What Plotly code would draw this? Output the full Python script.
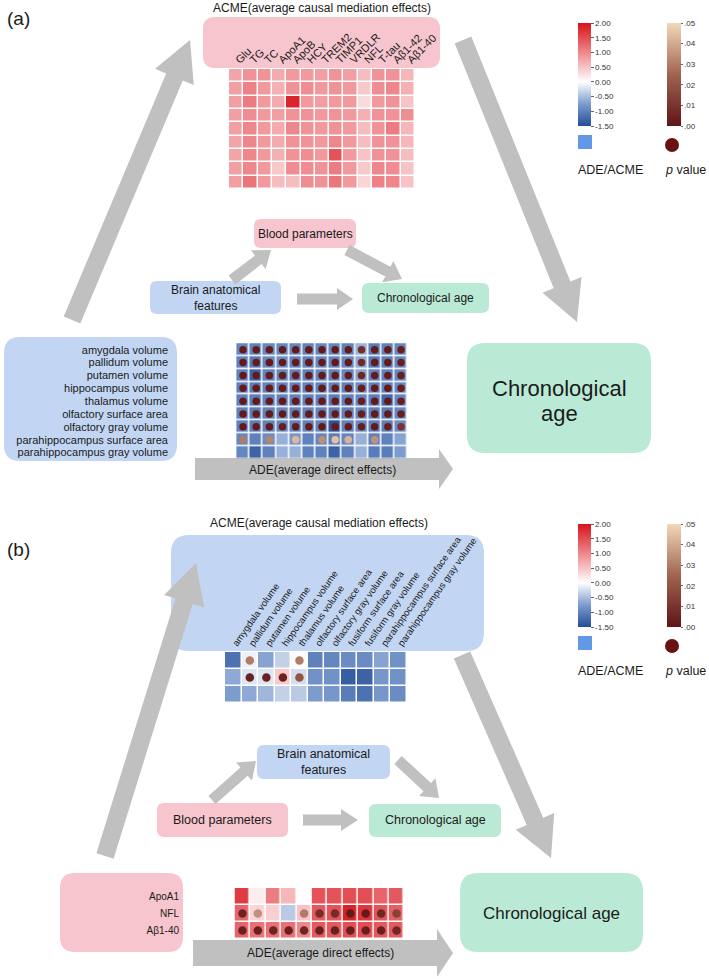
import math
import plotly.graph_objects as go

W, H = 709, 980

# ---------------- data ----------------
blood_params = ["Glu", "TG", "TC", "ApoA1", "ApoB", "HCY", "TREM2", "TIMP1",
                "VRDLR", "NFL", "T-tau", "Aβ1-42", "Aβ1-40"]
brain_rows_a = ["amygdala volume", "pallidum volume", "putamen volume",
                "hippocampus volume", "thalamus volume", "olfactory surface area",
                "olfactory gray volume", "parahippocampus surface area",
                "parahippocampus gray volume"]
brain_cols_b = ["amygdala volume", "pallidum volume", "putamen volume",
                "hippocampus volume", "thalamus volume", "olfactory surface area",
                "olfactory gray volume", "fusiform surface area", "fusiform gray volume",
                "parahippocampus surface area", "parahippocampus gray volume"]
blood_rows_b = ["ApoA1", "NFL", "Aβ1-40"]

# (a) ACME: brain feature -> blood parameter -> age
acme_a = [
    [0.75, 0.90, 0.90, 0.70, 0.85, 0.85, 0.80, 0.90, 0.80, 0.55, 0.90, 0.90, 0.60],
    [0.80, 1.05, 0.85, 0.65, 0.90, 0.95, 0.85, 0.90, 0.85, 0.45, 0.95, 1.00, 0.65],
    [0.80, 1.10, 0.85, 0.70, 1.85, 0.85, 0.80, 0.85, 0.85, 0.30, 0.85, 0.90, 0.50],
    [0.80, 0.95, 0.85, 0.80, 0.90, 0.90, 0.85, 0.90, 0.85, 0.65, 0.90, 0.90, 0.95],
    [0.80, 1.00, 0.85, 0.70, 1.00, 0.90, 0.85, 0.90, 0.85, 0.55, 0.90, 1.10, 0.60],
    [0.75, 1.00, 0.85, 0.70, 0.90, 0.90, 0.85, 1.00, 0.85, 0.55, 0.90, 0.90, 0.60],
    [0.75, 1.00, 0.85, 0.65, 0.90, 0.95, 0.85, 1.45, 0.85, 0.50, 0.90, 0.90, 0.55],
    [0.80, 1.00, 0.85, 0.45, 0.95, 0.95, 0.90, 1.10, 0.85, 0.45, 1.00, 0.95, 0.50],
    [0.80, 1.15, 0.85, 0.55, 0.55, 0.95, 0.90, 1.15, 0.85, 0.35, 1.05, 1.00, 0.50],
]
# (a) ADE
ade_a = [
    [-0.95, -1.00, -0.95, -0.95, -0.95, -1.00, -0.95, -0.95, -1.00, -0.60, -1.05, -1.00, -0.95],
    [-1.00, -1.10, -0.95, -0.90, -1.00, -1.00, -0.95, -1.00, -0.95, -0.65, -1.10, -1.05, -0.95],
    [-1.00, -1.30, -1.00, -0.95, -1.00, -1.00, -0.95, -1.00, -0.95, -0.70, -1.00, -1.00, -0.95],
    [-1.00, -1.05, -1.00, -1.00, -1.00, -1.00, -1.00, -1.00, -1.00, -0.90, -1.00, -1.00, -0.95],
    [-1.00, -1.05, -1.00, -1.00, -1.00, -1.00, -1.00, -1.05, -1.00, -0.95, -1.05, -1.25, -0.95],
    [-1.00, -1.05, -1.00, -0.95, -1.00, -1.00, -1.00, -1.05, -1.00, -0.95, -1.05, -1.05, -0.95],
    [-1.00, -1.05, -1.00, -0.95, -1.00, -1.00, -1.00, -1.45, -1.00, -0.95, -1.05, -1.05, -0.90],
    [-0.95, -1.00, -0.90, -0.60, -0.80, -1.00, -0.95, -1.05, -0.95, -0.60, -1.00, -1.00, -0.70],
    [-0.95, -1.30, -1.00, -0.60, -0.60, -1.00, -1.00, -1.30, -1.00, -0.60, -1.05, -1.05, -0.75],
]
p_ade_a = [
    [0.002, 0.002, 0.002, 0.002, 0.002, 0.002, 0.002, 0.002, 0.002, 0.008, 0.002, 0.002, 0.003],
    [0.002, 0.002, 0.002, 0.002, 0.002, 0.002, 0.002, 0.002, 0.002, 0.007, 0.002, 0.002, 0.003],
    [0.002, 0.002, 0.002, 0.002, 0.002, 0.002, 0.002, 0.002, 0.002, 0.006, 0.002, 0.002, 0.003],
    [0.002, 0.002, 0.002, 0.002, 0.002, 0.002, 0.002, 0.002, 0.002, 0.003, 0.002, 0.002, 0.003],
    [0.002, 0.002, 0.002, 0.002, 0.002, 0.002, 0.002, 0.002, 0.002, 0.003, 0.002, 0.002, 0.003],
    [0.002, 0.002, 0.002, 0.002, 0.002, 0.002, 0.002, 0.002, 0.002, 0.003, 0.002, 0.002, 0.003],
    [0.002, 0.002, 0.002, 0.003, 0.002, 0.002, 0.002, 0.002, 0.002, 0.003, 0.002, 0.003, 0.010],
    [0.030, None, 0.032, None, 0.043, None, 0.034, 0.045, 0.042, None, 0.035, None, None],
    [None, None, None, None, None, None, None, None, None, None, None, None, None],
]

# (b) ACME: blood parameter -> brain feature -> age
acme_b = [
    [-1.15, -0.10, -0.70, -0.35, -0.02, -1.00, -0.95, -0.90, -0.90, -0.70, -0.85],
    [-0.65, -0.20, -0.20, 0.45, -0.25, -0.85, -0.85, -1.35, -1.30, -0.80, -0.85],
    [-0.75, -0.65, -0.55, -0.35, -0.40, -0.75, -0.80, -1.05, -1.15, -0.80, -0.90],
]
p_acme_b = [
    [None, 0.030, None, None, 0.030, None, None, None, None, None, None],
    [None, 0.004, 0.004, 0.004, 0.020, None, None, None, None, None, None],
    [None, None, None, None, None, None, None, None, None, None, None],
]
# (b) ADE
ade_b = [
    [1.65, 0.15, 1.10, 0.60, 0.02, 1.45, 1.45, 1.50, 1.50, 1.30, 1.40],
    [1.30, 0.35, 0.40, -0.40, 0.50, 1.40, 1.45, 1.90, 1.70, 1.45, 1.35],
    [1.30, 1.20, 1.20, 1.20, 1.00, 1.40, 1.40, 1.50, 1.50, 1.40, 1.40],
]
p_ade_b = [
    [None, None, None, None, None, None, None, None, None, None, None],
    [0.005, 0.035, None, None, 0.030, 0.008, 0.008, 0.002, 0.002, 0.006, 0.015],
    [0.004, 0.004, 0.005, 0.004, 0.006, 0.004, 0.004, 0.003, 0.003, 0.004, 0.006],
]

effect_ticks = [2.0, 1.5, 1.0, 0.5, 0.0, -0.5, -1.0, -1.5]
p_ticks = [0.05, 0.04, 0.03, 0.02, 0.01, 0.0]

# ---------------- styles ----------------
FONT = "Liberation Sans, Arial, sans-serif"
TXT = "#1a1a1a"
PINK = "rgb(247,197,205)"
BLUE = "rgb(194,214,244)"
GREEN = "rgb(186,234,213)"
GRAY = "rgb(192,192,192)"
ZMIN, ZMAX = -1.5, 2.0
effect_scale = [[0.0, "rgb(35,78,152)"], [0.2143, "rgb(125,156,206)"],
                [0.4286, "rgb(255,255,255)"], [0.7143, "rgb(238,135,140)"],
                [1.0, "rgb(213,20,26)"]]
p_scale = [[0.0, "rgb(95,20,22)"], [0.5, "rgb(160,100,80)"], [1.0, "rgb(243,216,186)"]]


def dom_x(x0, x1):
    return [x0 / W, x1 / W]


def dom_y(y0, y1):
    return [1 - y1 / H, 1 - y0 / H]


def rrect(x0, y0, x1, y1, r, color):
    p = (f"M {x0+r},{y0} L {x1-r},{y0} Q {x1},{y0} {x1},{y0+r} "
         f"L {x1},{y1-r} Q {x1},{y1} {x1-r},{y1} L {x0+r},{y1} "
         f"Q {x0},{y1} {x0},{y1-r} L {x0},{y0+r} Q {x0},{y0} {x0+r},{y0} Z")
    return dict(type="path", path=p, xref="x", yref="y", fillcolor=color,
                line=dict(width=0), layer="below")


def arrow(x0, y0, x1, y1, sw, hw, hl, color=GRAY):
    dx, dy = x1 - x0, y1 - y0
    L = math.hypot(dx, dy)
    ux, uy = dx / L, dy / L
    nx, ny = -uy, ux
    bx, by = x1 - ux * hl, y1 - uy * hl
    pts = [(x0 + nx * sw / 2, y0 + ny * sw / 2), (bx + nx * sw / 2, by + ny * sw / 2),
           (bx + nx * hw / 2, by + ny * hw / 2), (x1, y1),
           (bx - nx * hw / 2, by - ny * hw / 2), (bx - nx * sw / 2, by - ny * sw / 2),
           (x0 - nx * sw / 2, y0 - ny * sw / 2)]
    p = "M " + " L ".join(f"{x:.1f},{y:.1f}" for x, y in pts) + " Z"
    return dict(type="path", path=p, xref="x", yref="y", fillcolor=color,
                line=dict(width=0), layer="below")


def ann(x, y, text, size=12, xanchor="center", color=TXT):
    return dict(x=x, y=y, xref="x", yref="y", text=text, showarrow=False,
                xanchor=xanchor, yanchor="middle",
                font=dict(size=size, family=FONT, color=color))


def dots(xcats, ycats, pmat):
    xs, ys, cs = [], [], []
    for i, row in enumerate(pmat):
        for j, v in enumerate(row):
            if v is not None:
                xs.append(xcats[j]); ys.append(ycats[i]); cs.append(v)
    return xs, ys, cs


fig = go.Figure()

# base canvas trace
fig.add_trace(go.Scatter(x=[0, W], y=[0, H], mode="markers", marker=dict(opacity=0),
                         hoverinfo="skip", xaxis="x", yaxis="y"))


def effect_colorbar(y_top):
    return dict(x=578 / W, xanchor="left", xpad=0, y=1 - y_top / H, yanchor="top",
                ypad=0, len=103, lenmode="pixels", thickness=13, outlinewidth=0,
                tickmode="array", tickvals=effect_ticks,
                ticktext=[f"{v:.2f}" for v in effect_ticks],
                ticks="outside", ticklen=3, tickcolor="#666",
                tickfont=dict(size=8, family=FONT, color="#333"))


def p_colorbar(y_top):
    return dict(x=667 / W, xanchor="left", xpad=0, y=1 - y_top / H, yanchor="top",
                ypad=0, len=103, lenmode="pixels", thickness=14, outlinewidth=0,
                tickmode="array", tickvals=p_ticks,
                ticktext=[(f"{v:.2f}")[1:] for v in p_ticks],
                ticks="outside", ticklen=2, tickcolor="#666",
                tickfont=dict(size=8, family=FONT, color="#333"))


# (a) ACME heatmap
fig.add_trace(go.Heatmap(z=acme_a, x=blood_params, y=brain_rows_a, xaxis="x2", yaxis="y2",
                         zmin=ZMIN, zmax=ZMAX, colorscale=effect_scale, xgap=1.5, ygap=1.5,
                         showscale=True, colorbar=effect_colorbar(23), hoverinfo="skip"))
# (a) ADE heatmap
fig.add_trace(go.Heatmap(z=ade_a, x=blood_params, y=brain_rows_a, xaxis="x3", yaxis="y3",
                         zmin=ZMIN, zmax=ZMAX, colorscale=effect_scale, xgap=1.5, ygap=1.5,
                         showscale=False, hoverinfo="skip"))
xs, ys, cs = dots(blood_params, brain_rows_a, p_ade_a)
fig.add_trace(go.Scatter(x=xs, y=ys, mode="markers", xaxis="x3", yaxis="y3", hoverinfo="skip",
                         marker=dict(size=7.5, color=cs, cmin=0, cmax=0.05, colorscale=p_scale,
                                     showscale=True, colorbar=p_colorbar(23),
                                     line=dict(width=0))))
# (b) ACME heatmap
fig.add_trace(go.Heatmap(z=acme_b, x=brain_cols_b, y=blood_rows_b, xaxis="x4", yaxis="y4",
                         zmin=ZMIN, zmax=ZMAX, colorscale=effect_scale, xgap=1.5, ygap=1.5,
                         showscale=True, colorbar=effect_colorbar(524), hoverinfo="skip"))
xs, ys, cs = dots(brain_cols_b, blood_rows_b, p_acme_b)
fig.add_trace(go.Scatter(x=xs, y=ys, mode="markers", xaxis="x4", yaxis="y4", hoverinfo="skip",
                         marker=dict(size=8.5, color=cs, cmin=0, cmax=0.05, colorscale=p_scale,
                                     showscale=True, colorbar=p_colorbar(524),
                                     line=dict(width=0))))
# (b) ADE heatmap
fig.add_trace(go.Heatmap(z=ade_b, x=brain_cols_b, y=blood_rows_b, xaxis="x5", yaxis="y5",
                         zmin=ZMIN, zmax=ZMAX, colorscale=effect_scale, xgap=1.5, ygap=1.5,
                         showscale=False, hoverinfo="skip"))
xs, ys, cs = dots(brain_cols_b, blood_rows_b, p_ade_b)
fig.add_trace(go.Scatter(x=xs, y=ys, mode="markers", xaxis="x5", yaxis="y5", hoverinfo="skip",
                         marker=dict(size=8.5, color=cs, cmin=0, cmax=0.05, colorscale=p_scale,
                                     showscale=False, line=dict(width=0))))

# ---------------- shapes ----------------
shapes = [
    # (a) boxes
    rrect(203, 17, 440, 68, 12, PINK),
    rrect(4, 337, 177, 461, 16, BLUE),
    rrect(467, 343, 651, 453, 18, GREEN),
    rrect(254, 219, 356, 248, 7, PINK),
    rrect(150, 281, 281, 314, 7, BLUE),
    rrect(362, 283, 489, 313, 7, GREEN),
    # (a) arrows
    arrow(72, 320, 190, 40, 18, 42, 40),
    arrow(463, 40, 577, 322, 18, 42, 40),
    arrow(232, 280, 271, 250, 11, 24, 16),
    arrow(347, 250, 402, 279, 11, 24, 16),
    arrow(297, 299, 353, 299, 11, 22, 16),
    arrow(195, 469, 453, 469, 22, 40, 14),
    # (b) boxes
    rrect(171, 535, 484, 651, 18, BLUE),
    rrect(60, 873, 183, 952, 15, PINK),
    rrect(460, 873, 643, 952, 18, GREEN),
    rrect(257, 745, 390, 779, 7, BLUE),
    rrect(157, 803, 288, 837, 7, PINK),
    rrect(369, 804, 501, 837, 7, GREEN),
    # (b) arrows
    arrow(105, 856, 196, 563, 18, 42, 40),
    arrow(462, 655, 551, 858, 18, 42, 40),
    arrow(212, 800, 256, 761, 11, 24, 16),
    arrow(398, 760, 439, 798, 11, 24, 16),
    arrow(303, 820, 358, 820, 11, 22, 17),
    arrow(193, 953, 453, 953, 26, 48, 16),
]
# legend swatches
for dy in (0, 501):
    shapes.append(dict(type="rect", xref="x", yref="y", x0=578, x1=592, y0=135 + dy, y1=149 + dy,
                       fillcolor="rgb(98,152,232)", line=dict(width=0)))
    shapes.append(dict(type="circle", xref="x", yref="y", x0=665, x1=679, y0=138 + dy, y1=152 + dy,
                       fillcolor="rgb(105,18,18)", line=dict(width=0)))

annotations = [
    ann(5, 18, "(a)", 19, "left"),
    ann(322, 8, "ACME(average causal mediation effects)", 12),
    ann(322, 470, "ADE(average direct effects)", 12),
    ann(305, 234, "Blood parameters", 12),
    ann(215, 298, "Brain anatomical<br>features", 12),
    ann(425, 298, "Chronological age", 12),
    ann(559, 388, "Chronological", 22),
    ann(559, 413, "age", 22),
    ann(610, 170, "ADE/ACME", 12.5),
    ann(685, 170, "<i>p</i> value", 12.5),
    ann(5, 549, "(b)", 19, "left"),
    ann(319, 523, "ACME(average causal mediation effects)", 12),
    ann(320, 953, "ADE(average direct effects)", 12),
    ann(323, 762, "Brain anatomical<br>features", 12.5),
    ann(222, 820, "Blood parameters", 12.5),
    ann(435, 820, "Chronological age", 12.5),
    ann(551, 913, "Chronological age", 17),
    ann(610, 671, "ADE/ACME", 12.5),
    ann(685, 671, "<i>p</i> value", 12.5),
]

hidden = dict(visible=False, showgrid=False, zeroline=False, fixedrange=True)


def cat_axis(cats, domain, anchor, show=False, side=None, angle=None, size=10,
             reverse=False, standoff=None):
    d = dict(domain=domain, anchor=anchor, type="category", showgrid=False, zeroline=False,
             showline=False, ticks="", fixedrange=True, automargin=False,
             tickmode="array", tickvals=cats, ticktext=cats, showticklabels=show,
             tickfont=dict(size=size, family=FONT, color=TXT))
    if side:
        d["side"] = side
    if angle is not None:
        d["tickangle"] = angle
    if reverse:
        d["autorange"] = "reversed"
    if standoff is not None:
        d["ticklabelstandoff"] = standoff
    return d


fig.update_layout(
    width=W, height=H,
    margin=dict(l=0, r=0, t=0, b=0, autoexpand=False),
    paper_bgcolor="white", plot_bgcolor="rgba(0,0,0,0)",
    showlegend=False,
    font=dict(family=FONT, color=TXT),
    xaxis=dict(domain=[0, 1], range=[0, W], anchor="y", **hidden),
    yaxis=dict(domain=[0, 1], range=[H, 0], anchor="x", **hidden),
    xaxis2=cat_axis(blood_params, dom_x(229, 415), "y2", True, "top", -45, 11),
    yaxis2=cat_axis(brain_rows_a, dom_y(69, 189), "x2", reverse=True),
    xaxis3=cat_axis(blood_params, dom_x(229, 415), "y3"),
    yaxis3=cat_axis(brain_rows_a, dom_y(339, 459), "x3", True, size=11, reverse=True,
                    standoff=60),
    xaxis4=cat_axis(brain_cols_b, dom_x(225, 407), "y4", True, "top", -55, 9.5),
    yaxis4=cat_axis(blood_rows_b, dom_y(652, 703), "x4", reverse=True),
    xaxis5=cat_axis(brain_cols_b, dom_x(228, 411), "y5"),
    yaxis5=cat_axis(blood_rows_b, dom_y(888, 939), "x5", True, size=10, reverse=True,
                    standoff=48),
    shapes=shapes,
    annotations=annotations,
)

fig.write_html("out.html", config={"displayModeBar": False},
               post_script="document.body.style.margin='0px';")
